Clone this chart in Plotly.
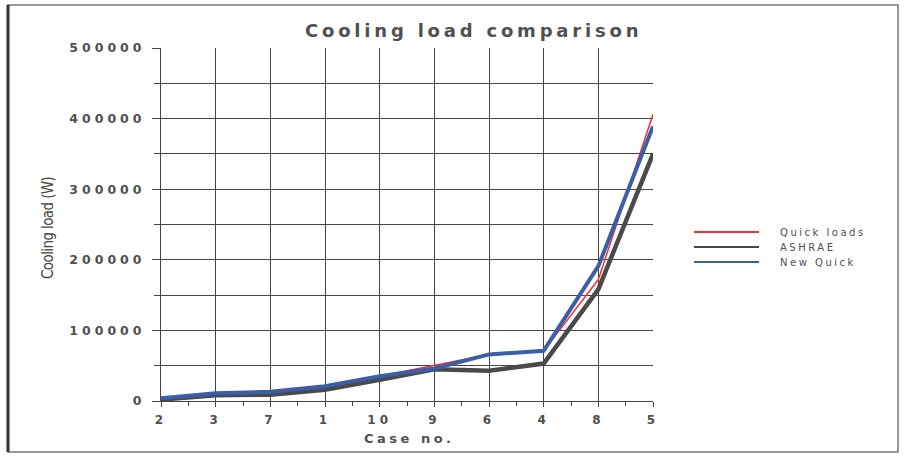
import plotly.graph_objects as go

cases = ["2", "3", "7", "1", "10", "9", "6", "4", "8", "5"]
quick_loads = [4000, 11000, 13000, 21000, 35000, 50000, 66000, 71000, 172000, 406000]
ashrae = [2000, 8000, 9000, 16000, 30000, 45000, 43000, 53000, 158000, 350000]
new_quick = [4000, 11000, 13000, 21000, 35000, 46000, 66000, 71000, 191000, 389000]
y_ticks = [0, 100000, 200000, 300000, 400000, 500000]
series_names = ["Quick loads", "ASHRAE", "New Quick"]
series_colors = ["#ee3333", "#4a4a4a", "#3a5ea8"]
series_widths = [1.5, 4.5, 4]


def sp(s, ls):
    return '<span style="letter-spacing:%spx">%s</span>' % (ls, s)


xs = list(range(len(cases)))
txt = "#505050"
W, H = 906, 456
L, R, T, B = 161, 653, 48, 401
pw, ph = R - L, B - T


def px(x):
    return (x - L) / pw


def py(y):
    return (B - y) / ph


fig = go.Figure()
for name, vals, col, w in zip(series_names, [quick_loads, ashrae, new_quick], series_colors, series_widths):
    fig.add_trace(go.Scatter(x=xs, y=vals, mode="lines", name=name, showlegend=False,
                             line=dict(color=col, width=w)))

shapes = [
    dict(type="rect", xref="paper", yref="paper", x0=px(8), x1=px(898),
         y0=py(452), y1=py(5), line=dict(color="#777", width=1.5)),
    dict(type="line", xref="paper", yref="paper", x0=px(8), x1=px(8),
         y0=py(452), y1=py(5), line=dict(color="#333", width=3)),
]
annotations = [
    dict(text="<b>" + sp("Cooling load comparison", 3.8) + "</b>", xref="paper", yref="paper",
         x=px(473), y=py(31), xanchor="center", yanchor="middle", showarrow=False,
         font=dict(family="DejaVu Sans", size=18, color=txt)),
    dict(text=sp("Cooling load (W)", -0.6), xref="paper", yref="paper", textangle=-90,
         x=px(48), y=py(228), xanchor="center", yanchor="middle", showarrow=False,
         font=dict(family="DejaVu Sans Condensed", size=15, color="#444")),
    dict(text="<b>" + sp("Case no.", 3.5) + "</b>", xref="paper", yref="paper",
         x=px(409), y=py(438), xanchor="center", yanchor="middle", showarrow=False,
         font=dict(family="DejaVu Sans", size=13, color=txt)),
]
for i, (name, col) in enumerate(zip(series_names, series_colors)):
    yy = 232 + i * 15
    shapes.append(dict(type="line", xref="paper", yref="paper", x0=px(694), x1=px(759),
                       y0=py(yy), y1=py(yy), line=dict(color=col, width=2)))
    label = "".join(sp(ch, 2.5) for ch in name)
    annotations.append(dict(text=label, xref="paper", yref="paper", x=px(778), y=py(yy),
                            xanchor="left", yanchor="middle", align="left",
                            showarrow=False,
                            font=dict(family="DejaVu Sans", size=10, color=txt)))

fig.update_layout(
    width=W, height=H,
    margin=dict(l=L, r=W - R, t=T, b=H - B),
    paper_bgcolor="white", plot_bgcolor="white",
    font=dict(family="DejaVu Sans", color=txt),
    showlegend=False,
    xaxis=dict(range=[0, 9], tickvals=xs, ticktext=["<b>" + sp(c, 4) + "</b>" for c in cases],
               showgrid=True, gridcolor="#444", gridwidth=1,
               showline=True, linecolor="#444", linewidth=1,
               ticks="outside", ticklen=5, tickcolor="#444", ticklabelstandoff=3,
               minor=dict(tickvals=[i + 0.5 for i in xs[:-1]], ticks="outside", ticklen=4,
                          tickcolor="#444", showgrid=False),
               tickfont=dict(size=12, color=txt, family="DejaVu Sans"),
               zeroline=False),
    yaxis=dict(range=[0, 500000], tickvals=y_ticks,
               ticktext=["<b>" + sp(str(v), 4) + "</b>" for v in y_ticks],
               showgrid=True, gridcolor="#444", gridwidth=1,
               showline=True, linecolor="#444", linewidth=1,
               ticks="outside", ticklen=8, tickcolor="#444", ticklabelstandoff=4,
               minor=dict(dtick=50000, ticks="outside", ticklen=6, tickcolor="#444",
                          showgrid=True, gridcolor="#444", gridwidth=1),
               tickfont=dict(size=12.5, color=txt, family="DejaVu Sans"),
               zeroline=False),
    shapes=shapes,
    annotations=annotations,
)

fig.write_html("out.html", config={"displayModeBar": False},
               post_script="document.body.style.margin='0px';")
